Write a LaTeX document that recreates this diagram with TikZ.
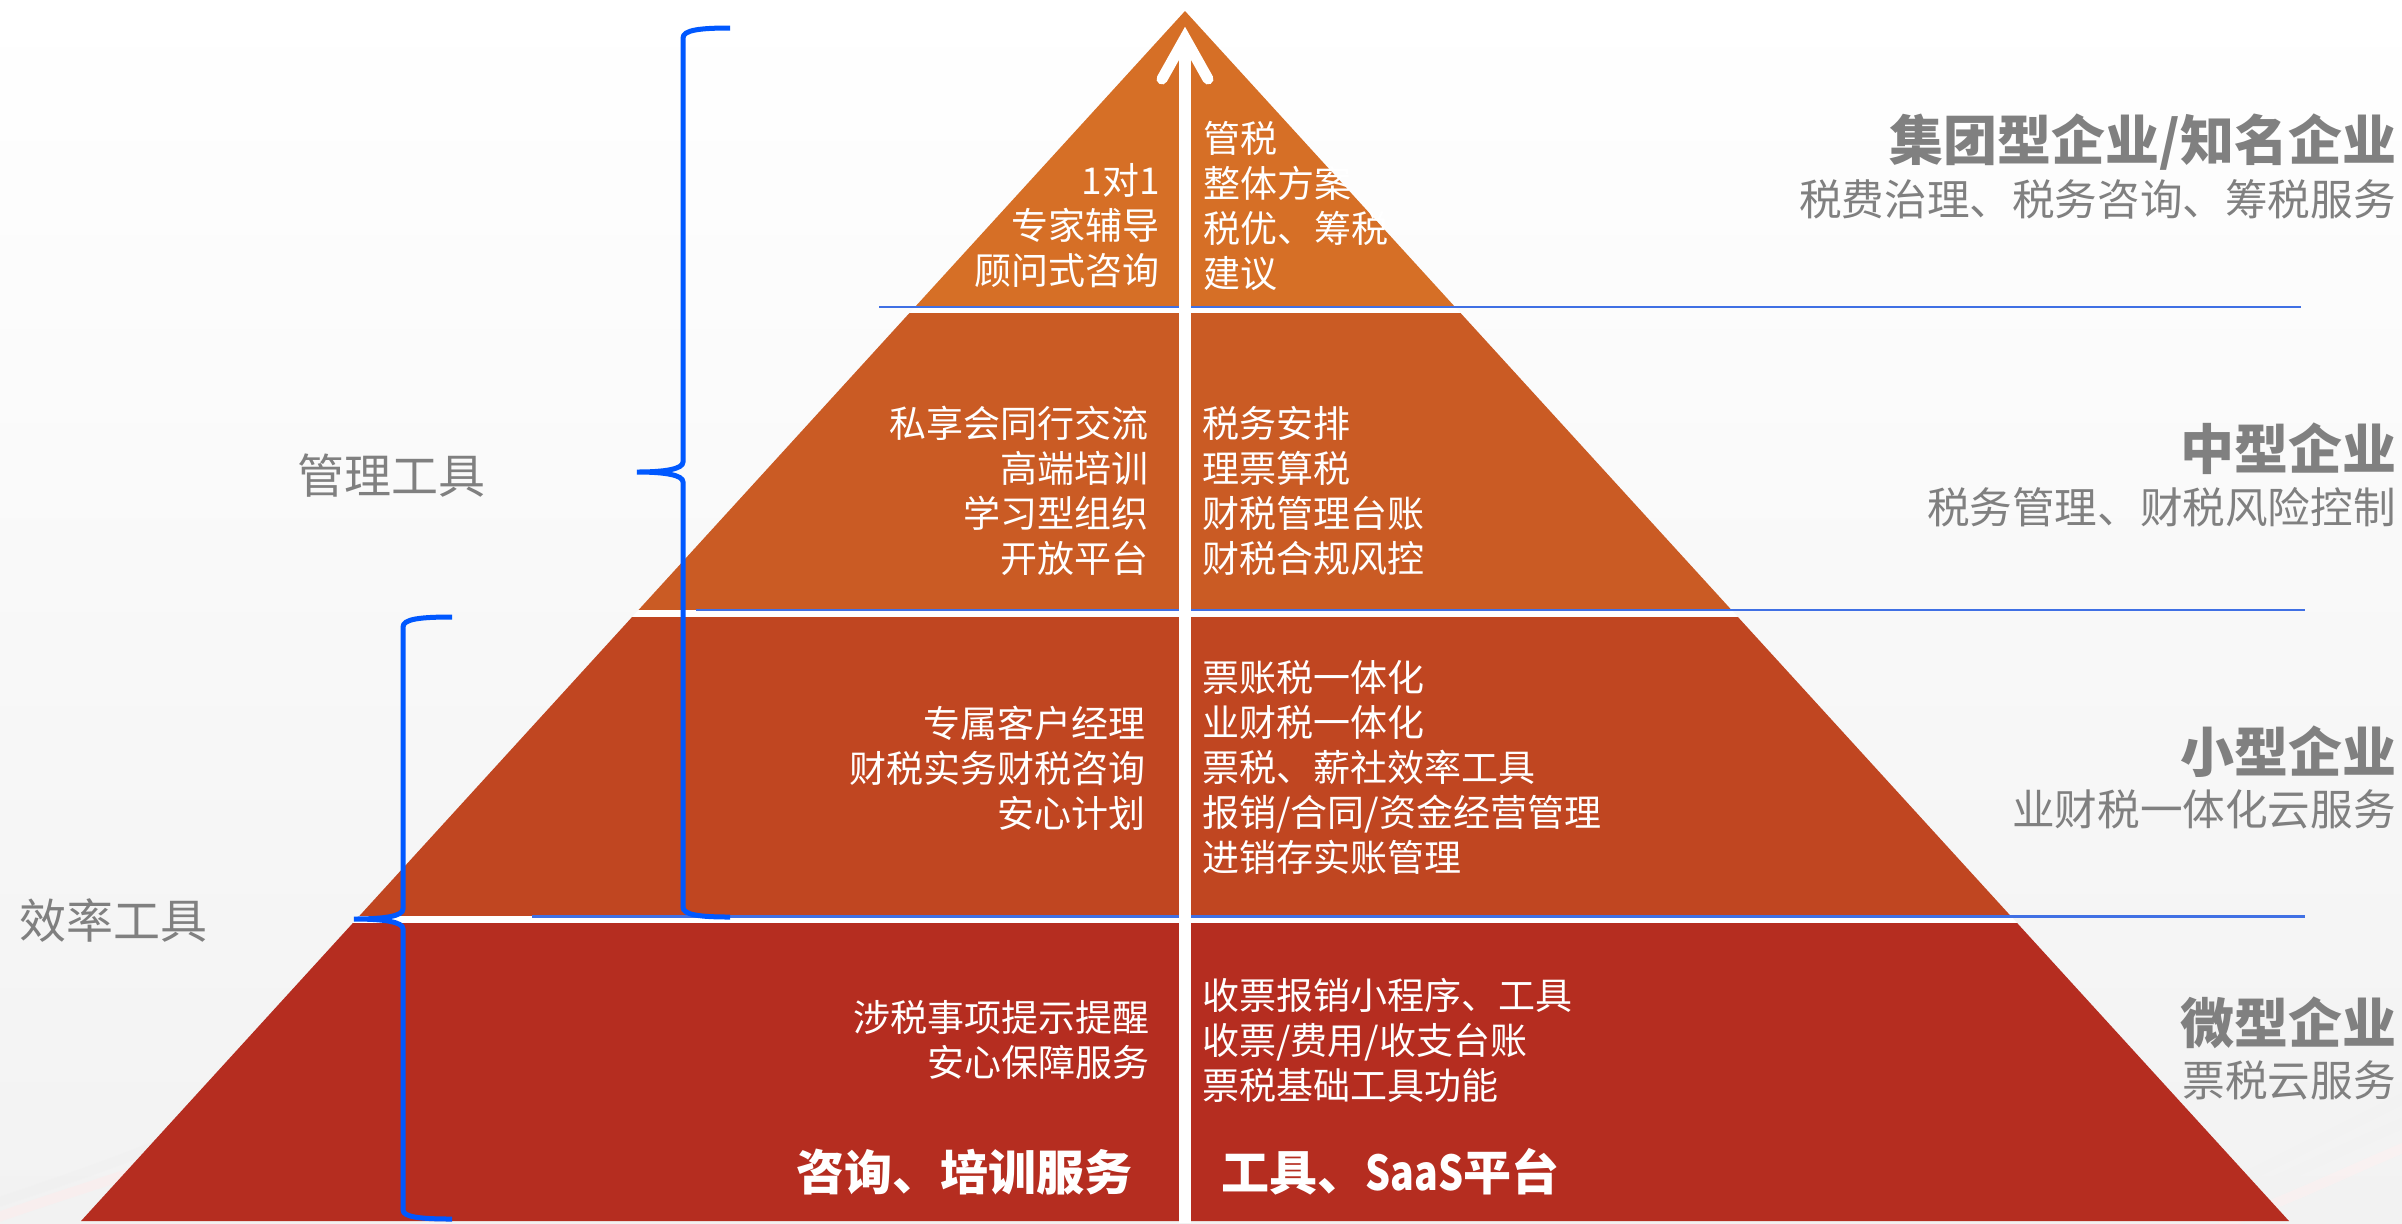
\documentclass[tikz,border=0pt]{standalone}
\usepackage{fontspec}
\usepackage{graphicx}
\setmainfont{Noto Sans CJK SC}
\newfontfamily\cjk{Noto Sans CJK SC}
\definecolor{bandA}{RGB}{214,111,38}
\definecolor{bandB}{RGB}{202,91,36}
\definecolor{bandC}{RGB}{192,70,33}
\definecolor{bandD}{RGB}{181,45,32}
\definecolor{bgbot}{RGB}{242,242,242}
\definecolor{bracecol}{RGB}{0,88,255}
\definecolor{sepcol}{RGB}{64,112,228}
\definecolor{labgray}{RGB}{128,128,128}
\begin{document}
\begin{tikzpicture}[x=0.5pt,y=-0.5pt,
  ptext/.style={font=\cjk\fontsize{18.5}{22.5}\selectfont, text=white, inner sep=0pt},
  pleft/.style={ptext, anchor=east, align=right},
  pright/.style={ptext, anchor=west, align=left},
  boldtext/.style={font=\cjk\bfseries\fontsize{24}{28}\selectfont, text=white, inner sep=0pt},
  headtext/.style={font=\cjk\bfseries\fontsize{27}{31}\selectfont, text=labgray, inner sep=0pt, anchor=east},
  subtext/.style={font=\cjk\fontsize{21.3}{25}\selectfont, text=labgray, inner sep=0pt, anchor=east},
  sidetext/.style={font=\cjk\fontsize{23.5}{28}\selectfont, text=labgray, inner sep=0pt},
  sepline/.style={draw=sepcol, line width=1.1pt},
  bracepath/.style={draw=bracecol, line width=2.5pt},
  swoosh/.style={line width=5pt, opacity=0.5}
]
\useasboundingbox (0,0) rectangle (2402,1223);
% background
\shade[top color=white, bottom color=bgbot] (0,0) rectangle (2402,1223);
% faint swooshes
\draw[swoosh, gray!12] (-10,1205) .. controls (50,1185) and (110,1165) .. (170,1140);
\draw[swoosh, red!8] (-10,1220) .. controls (60,1195) and (120,1178) .. (180,1155);
\draw[swoosh, gray!10] (2200,1215) .. controls (2280,1180) and (2340,1150) .. (2410,1120);
\draw[swoosh, red!6] (2220,1225) .. controls (2300,1195) and (2350,1170) .. (2410,1145);
\draw[swoosh, gray!10] (2240,1180) .. controls (2310,1145) and (2360,1120) .. (2410,1095);
% pyramid
\coordinate (apex) at (1185,11);
\coordinate (bl) at (81,1221);
\coordinate (br) at (2289,1221);
\begin{scope}
  \clip (apex) -- (br) -- (bl) -- cycle;
  \fill[bandA] (0,0) rectangle (2402,306);
  \fill[white] (0,306) rectangle (2402,313);
  \fill[bandB] (0,313) rectangle (2402,609.5);
  \fill[white] (0,609.5) rectangle (2402,617);
  \fill[bandC] (0,617) rectangle (2402,916);
  \fill[white] (0,916) rectangle (2402,923);
  \fill[bandD] (0,923) rectangle (2402,1223);
\end{scope}
% separator lines
\draw[sepline] (879,307) -- (2301,307);
\draw[sepline] (696,610) -- (2305,610);
\draw[sepline] (532,916.5) -- (2305,916.5);
% central arrow
\coordinate (abot) at (1185,1223);
\coordinate (atop) at (1185,40);
\draw[white, line width=6pt] (abot) -- (atop);
\draw[white, line width=5.5pt, line cap=round, miter limit=10] (1162,79) -- (1185,38) -- (1208,79);
% braces
\draw[bracepath] (730,28) .. controls (700,28) and (683,30) .. (683,38) -- (683,462)
  .. controls (683,469) and (665,472) .. (637,472)
  .. controls (665,472) and (683,475) .. (683,482) -- (683,907)
  .. controls (683,915) and (700,917) .. (730,917);
\draw[bracepath] (452,617) .. controls (420,617) and (403,619) .. (403,627) -- (403,909)
  .. controls (403,916) and (385,919) .. (354,919)
  .. controls (385,919) and (403,922) .. (403,929) -- (403,1210)
  .. controls (403,1217) and (420,1219) .. (452,1219);
% pyramid texts
\node[pleft] (t1l) at (1160,226) {1对1\\专家辅导\\顾问式咨询};
\node[pright] (t1r) at (1203,205.5) {管税\\整体方案\\税优、筹税\\建议};
\node[pleft] (t2l) at (1149,490.5) {私享会同行交流\\高端培训\\学习型组织\\开放平台};
\node[pright] (t2r) at (1202,490.5) {税务安排\\理票算税\\财税管理台账\\财税合规风控};
\node[pleft] (t3l) at (1146,768) {专属客户经理\\财税实务财税咨询\\安心计划};
\node[pright] (t3r) at (1202,767.5) {票账税一体化\\业财税一体化\\票税、薪社效率工具\\报销/合同/资金经营管理\\进销存实账管理};
\node[pleft] (t4l) at (1150,1039.5) {涉税事项提示提醒\\安心保障服务};
\node[pright] (t4r) at (1202,1040) {收票报销小程序、工具\\收票/费用/收支台账\\票税基础工具功能};
\node[boldtext, anchor=east] (svc) at (1133,1172) {咨询、培训服务};
\node[boldtext, anchor=west] (saas) at (1221,1172) {工具、\scalebox{0.82}[1]{SaaS}平台};
% right labels
\node[headtext] (h1) at (2397,142) {集团型企业/知名企业};
\node[subtext] (s1) at (2396,199) {税费治理、税务咨询、筹税服务};
\node[headtext] (h2) at (2397,449) {中型企业};
\node[subtext] (s2) at (2396,507) {税务管理、财税风险控制};
\node[headtext] (h3) at (2397,752) {小型企业};
\node[subtext] (s3) at (2396,809) {业财税一体化云服务};
\node[headtext] (h4) at (2397,1023) {微型企业};
\node[subtext] (s4) at (2396,1080) {票税云服务};
% left labels
\node[sidetext] (mgmt) at (391,476) {管理工具};
\node[sidetext] (eff) at (113,921) {效率工具};
\end{tikzpicture}
\end{document}
